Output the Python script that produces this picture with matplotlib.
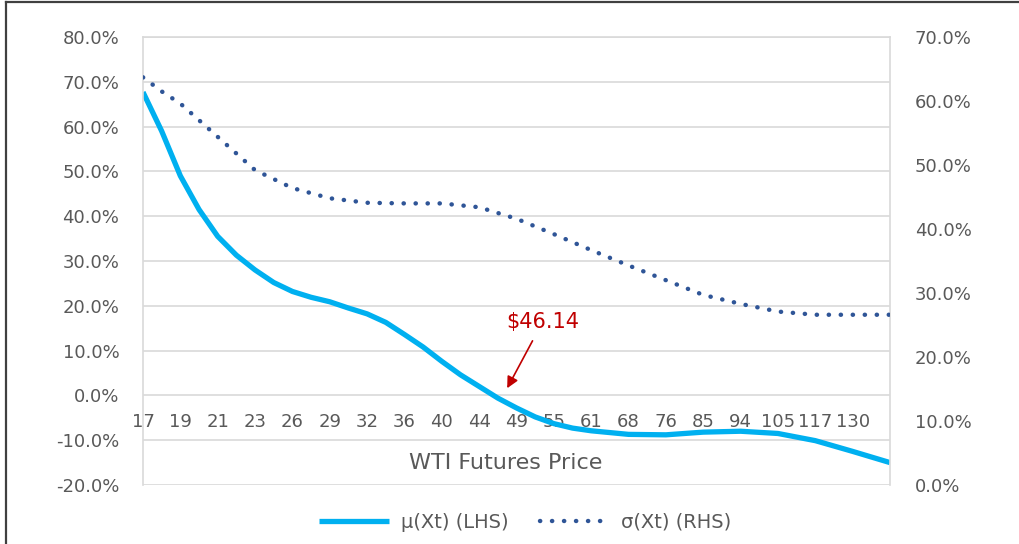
import matplotlib
matplotlib.use("Agg")
import matplotlib.pyplot as plt
from matplotlib.ticker import PercentFormatter, MultipleLocator
from matplotlib.lines import Line2D

# x axis categories (WTI futures price), one label per step
prices = ['17', '19', '21', '23', '26', '29', '32', '36', '40', '44',
          '49', '55', '61', '68', '76', '85', '94', '105', '117', '130']

# mu(Xt), left axis, in %  (read at half label steps up to 12)
mu_x = [0, 0.5, 1, 1.5, 2, 2.5, 3, 3.5, 4, 4.5, 5, 5.5, 6, 6.5, 7, 7.5, 8, 8.5,
        9, 9.5, 10, 10.5, 11, 11.5, 12, 13, 14, 15, 16, 17, 18, 19, 20]
mu = [67.7, 59.0, 49.0, 41.5, 35.5, 31.3, 28.0, 25.2, 23.2, 21.9, 20.9, 19.5, 18.2, 16.3,
      13.6, 10.8, 7.6, 4.6, 2.0, -0.6, -2.8, -4.8, -6.3, -7.3, -7.9, -8.7, -8.8, -8.2,
      -8.0, -8.5, -10.1, -12.5, -15.0]

# sigma(Xt), right axis, in %
sigma_x = [0, 0.5, 1, 1.5, 2, 2.5, 3, 4, 5, 6, 7, 8, 9, 10,
           11, 12, 13, 14, 15, 16, 17, 18, 19, 20]
sigma = [63.7, 61.5, 59.6, 57.0, 54.4, 51.8, 49.2, 46.4, 44.8, 44.1, 44.0, 44.0, 43.4, 41.6,
         39.2, 36.7, 34.3, 32.0, 29.7, 28.3, 27.1, 26.6, 26.6, 26.6]

plt.rcParams['axes.unicode_minus'] = False
txt = '#595959'
grid = '#D9D9D9'

fig = plt.figure(figsize=(10.2, 5.44), dpi=100)
ax = fig.add_axes([143 / 1020, 1 - 485 / 544, 747 / 1020, 448 / 544])
ax2 = ax.twinx()

l1, = ax.plot(mu_x, mu, color='#00B0F0', lw=3.8, solid_capstyle='butt',
              label='μ(Xt) (LHS)')
l2, = ax2.plot(sigma_x, sigma, color='#2F5597', lw=3.2, linestyle=(0, (0.05, 2.65)),
               dash_capstyle='round', label='σ(Xt) (RHS)')

ax.set_xlim(0, 20)
ax.set_ylim(-20, 80)
ax.yaxis.set_major_locator(MultipleLocator(10))
ax.yaxis.set_major_formatter(PercentFormatter(xmax=100, decimals=1))
ax2.set_ylim(0, 70)
ax2.yaxis.set_major_locator(MultipleLocator(10))
ax2.yaxis.set_major_formatter(PercentFormatter(xmax=100, decimals=1))

ax.set_xticks(range(len(prices)))
ax.set_xticklabels(prices)
ax.grid(axis='y', color=grid, lw=1.2)
ax.set_axisbelow(True)

# category axis crosses at 0 on the left axis
ax.spines['bottom'].set_position(('data', 0))
ax.spines['bottom'].set_visible(False)
for s in ['left', 'right', 'top']:
    ax.spines[s].set_color(grid)
    ax.spines[s].set_linewidth(1.2)
for s in ax2.spines.values():
    s.set_visible(False)

ax.tick_params(axis='x', length=0, pad=13, labelsize=13, labelcolor=txt)
ax.tick_params(axis='y', length=0, pad=17, labelsize=13, labelcolor=txt)
ax2.tick_params(axis='y', length=0, pad=18, labelsize=13, labelcolor=txt)

ax.set_xlabel('WTI Futures Price', fontsize=16, color=txt)
ax.xaxis.set_label_coords(0.486, 0.072)

ax.annotate(r'\$46.14', xy=(9.75, 1.6), xytext=(10.7, 16.4), ha='center', va='center',
            color='#C00000', fontsize=15,
            arrowprops=dict(arrowstyle='-|>', color='#C00000', lw=1.2,
                            mutation_scale=17, shrinkA=5, shrinkB=0))

fig.legend(handles=[l1, l2], loc='center', bbox_to_anchor=(0.515, 0.0404), ncol=2,
           frameon=False, fontsize=14, handlelength=3.6, handletextpad=0.6,
           columnspacing=1.6, labelcolor=txt)

# outer frame edges visible in the crop
fig.add_artist(Line2D([6 / 1020, 1], [1 - 2 / 544, 1 - 2 / 544], color='#404040', lw=1.6))
fig.add_artist(Line2D([6 / 1020, 6 / 1020], [0, 1 - 2 / 544], color='#404040', lw=1.6))

fig.savefig('out.png', dpi=100)
